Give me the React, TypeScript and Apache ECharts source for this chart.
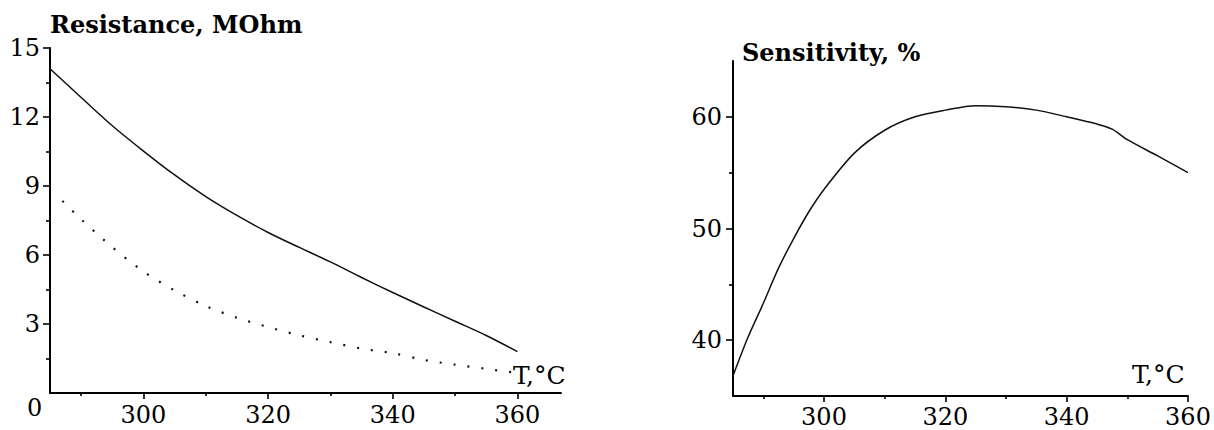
import React, { useEffect, useRef } from 'react';
import * as echarts from 'echarts';

// Resistance vs temperature (solid curve)
const resistanceTemps = [285, 290, 295, 300, 305, 310, 315, 320, 325, 330, 335, 340, 345, 350, 355, 360];
const resistanceSolid = [14.1, 12.85, 11.62, 10.52, 9.48, 8.54, 7.72, 6.98, 6.33, 5.7, 5.02, 4.37, 3.74, 3.12, 2.5, 1.8];

// Resistance vs temperature (dotted curve)
const dottedTemps = [287, 290, 295, 300, 305, 310, 315, 320, 325, 330, 335, 340, 345, 350, 355, 360];
const resistanceDotted = [8.35, 7.55, 6.34, 5.28, 4.46, 3.78, 3.27, 2.87, 2.51, 2.21, 1.93, 1.73, 1.44, 1.23, 1.05, 0.87];

// Sensitivity vs temperature
const sensitivityTemps = [285, 287.5, 290, 292.5, 295, 297.5, 300, 305, 310, 315, 320, 325, 330, 335, 340, 345, 347.5, 350, 355, 360];
const sensitivity = [36.8, 40.3, 43.3, 46.45, 49.1, 51.5, 53.5, 56.75, 58.8, 60.0, 60.6, 61.0, 60.9, 60.6, 60.0, 59.35, 58.9, 57.95, 56.5, 55.0];

// Tick positions
const tempMajorTicks = [300, 320, 340, 360];
const tempMinorTicks = [290, 310, 330, 350];
const resistanceMajorTicks = [3, 6, 9, 12, 15];
const resistanceMinorTicks = [1.5, 4.5, 7.5, 10.5, 13.5];
const sensitivityMajorTicks = [40, 50, 60];
const sensitivityMinorTicks = [45, 55];

const FONT = '"DejaVu Serif", serif';
const INK = '#000000';

const pairs = (xs: number[], ys: number[]) => xs.map((x, i) => [x, ys[i]]);

export default function App() {
  const ref = useRef<HTMLDivElement>(null);

  useEffect(() => {
    const chart = echarts.init(ref.current!, null, { renderer: 'svg' });

    const labelStyle = { color: INK, fontFamily: FONT, fontSize: 24 };
    const tickLine = { color: INK, width: 1.6 };

    // Axis carrying the line and the labels
    const labelAxis = (gridIndex: number, min: number, max: number, ticks: number[], margin: number, position: string) => ({
      type: 'value', gridIndex, min, max, position,
      axisLine: { show: true, lineStyle: { color: INK, width: 2 } },
      splitLine: { show: false },
      axisTick: { show: false },
      axisLabel: { show: true, customValues: ticks, margin, ...labelStyle },
    });
    // Axis carrying only tick marks
    const tickAxis = (gridIndex: number, min: number, max: number, ticks: number[], length: number, position: string) => ({
      type: 'value', gridIndex, min, max, position,
      axisLine: { show: false },
      splitLine: { show: false },
      axisTick: { show: true, customValues: ticks, length, lineStyle: tickLine },
      axisLabel: { show: false },
    });

    chart.setOption({
      animation: false,
      backgroundColor: '#ffffff',
      grid: [
        { left: 50, top: 48, width: 511, height: 345 },
        { left: 733, top: 61, width: 455, height: 335 },
      ],
      xAxis: [
        labelAxis(0, 285, 367, tempMajorTicks, 10, 'bottom'),
        tickAxis(0, 285, 367, tempMajorTicks, 6, 'bottom'),
        tickAxis(0, 285, 367, tempMinorTicks, 3, 'bottom'),
        labelAxis(1, 285, 360, tempMajorTicks, 9, 'bottom'),
        tickAxis(1, 285, 360, tempMajorTicks, 6, 'bottom'),
        tickAxis(1, 285, 360, tempMinorTicks, 3, 'bottom'),
      ],
      yAxis: [
        labelAxis(0, 0, 15, resistanceMajorTicks, 10, 'left'),
        tickAxis(0, 0, 15, resistanceMajorTicks, 7, 'left'),
        tickAxis(0, 0, 15, resistanceMinorTicks, 4, 'left'),
        labelAxis(1, 35, 65, sensitivityMajorTicks, 11, 'left'),
        tickAxis(1, 35, 65, sensitivityMajorTicks, 7, 'left'),
        tickAxis(1, 35, 65, sensitivityMinorTicks, 4, 'left'),
      ],
      series: [
        {
          type: 'line', xAxisIndex: 0, yAxisIndex: 0,
          data: pairs(resistanceTemps, resistanceSolid),
          smooth: 0.3, symbol: 'none',
          lineStyle: { color: '#111111', width: 1.5 },
        },
        {
          type: 'line', xAxisIndex: 0, yAxisIndex: 0,
          data: pairs(dottedTemps, resistanceDotted),
          smooth: 0.3, symbol: 'none',
          lineStyle: { color: '#111111', width: 2.2, type: [2, 12], cap: 'butt' },
        },
        {
          type: 'line', xAxisIndex: 3, yAxisIndex: 3,
          data: pairs(sensitivityTemps, sensitivity),
          smooth: 0.3, symbol: 'none',
          lineStyle: { color: '#111111', width: 1.5 },
        },
      ],
      graphic: [
        { type: 'text', x: 50, y: 12, style: { text: 'Resistance, MOhm', font: `bold 24px ${FONT}`, fill: INK, verticalAlign: 'top' } },
        { type: 'text', x: 742, y: 40, style: { text: 'Sensitivity, %', font: `bold 24px ${FONT}`, fill: INK, verticalAlign: 'top' } },
        { type: 'text', x: 27, y: 396, style: { text: '0', font: `24px ${FONT}`, fill: INK, verticalAlign: 'top' } },
        { type: 'text', x: 513, y: 363, style: { text: 'T,°C', font: `25px ${FONT}`, fill: INK, verticalAlign: 'top' } },
        { type: 'text', x: 1132, y: 362, style: { text: 'T,°C', font: `25px ${FONT}`, fill: INK, verticalAlign: 'top' } },
      ],
    });

    return () => chart.dispose();
  }, []);

  return (
    <div
      ref={ref}
      style={{ position: 'fixed', left: 0, top: 0, width: 1214, height: 430, background: '#fff' }}
    />
  );
}
